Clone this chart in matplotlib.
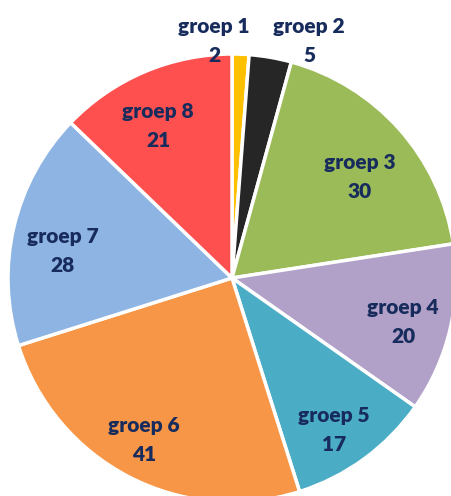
import matplotlib
matplotlib.use("Agg")
import matplotlib.pyplot as plt

labels = ["groep 1", "groep 2", "groep 3", "groep 4", "groep 5", "groep 6", "groep 7", "groep 8"]
values = [2, 5, 30, 20, 17, 41, 28, 21]
colors = ["#FFC000", "#262626", "#9BBB59", "#B1A0C7", "#4BACC6", "#F79646", "#8EB4E3", "#FF5050"]

# label centres in pixel coords (x, y from top)
label_pos = [(214, 41), (309, 41), (360, 177), (403, 322), (334, 430), (144, 440), (63, 251), (158, 126)]

W, H = 452, 496
fig = plt.figure(figsize=(W / 100, H / 100), dpi=100)
ax = fig.add_axes([0, 0, 1, 1])
ax.pie(values, colors=colors, startangle=90, counterclock=False,
       center=(232, H - 278), radius=224,
       wedgeprops=dict(edgecolor="white", linewidth=2.5))
ax.set_xlim(0, W)
ax.set_ylim(0, H)
ax.set_aspect("equal")
ax.axis("off")

for lab, val, (x, y) in zip(labels, values, label_pos):
    ax.text(x, H - y, f"{lab}\n{val}", ha="center", va="center", color="#172C5C",
            fontsize=15, fontweight="heavy", family="Lato", linespacing=1.6)

fig.savefig("out.png", dpi=100)
